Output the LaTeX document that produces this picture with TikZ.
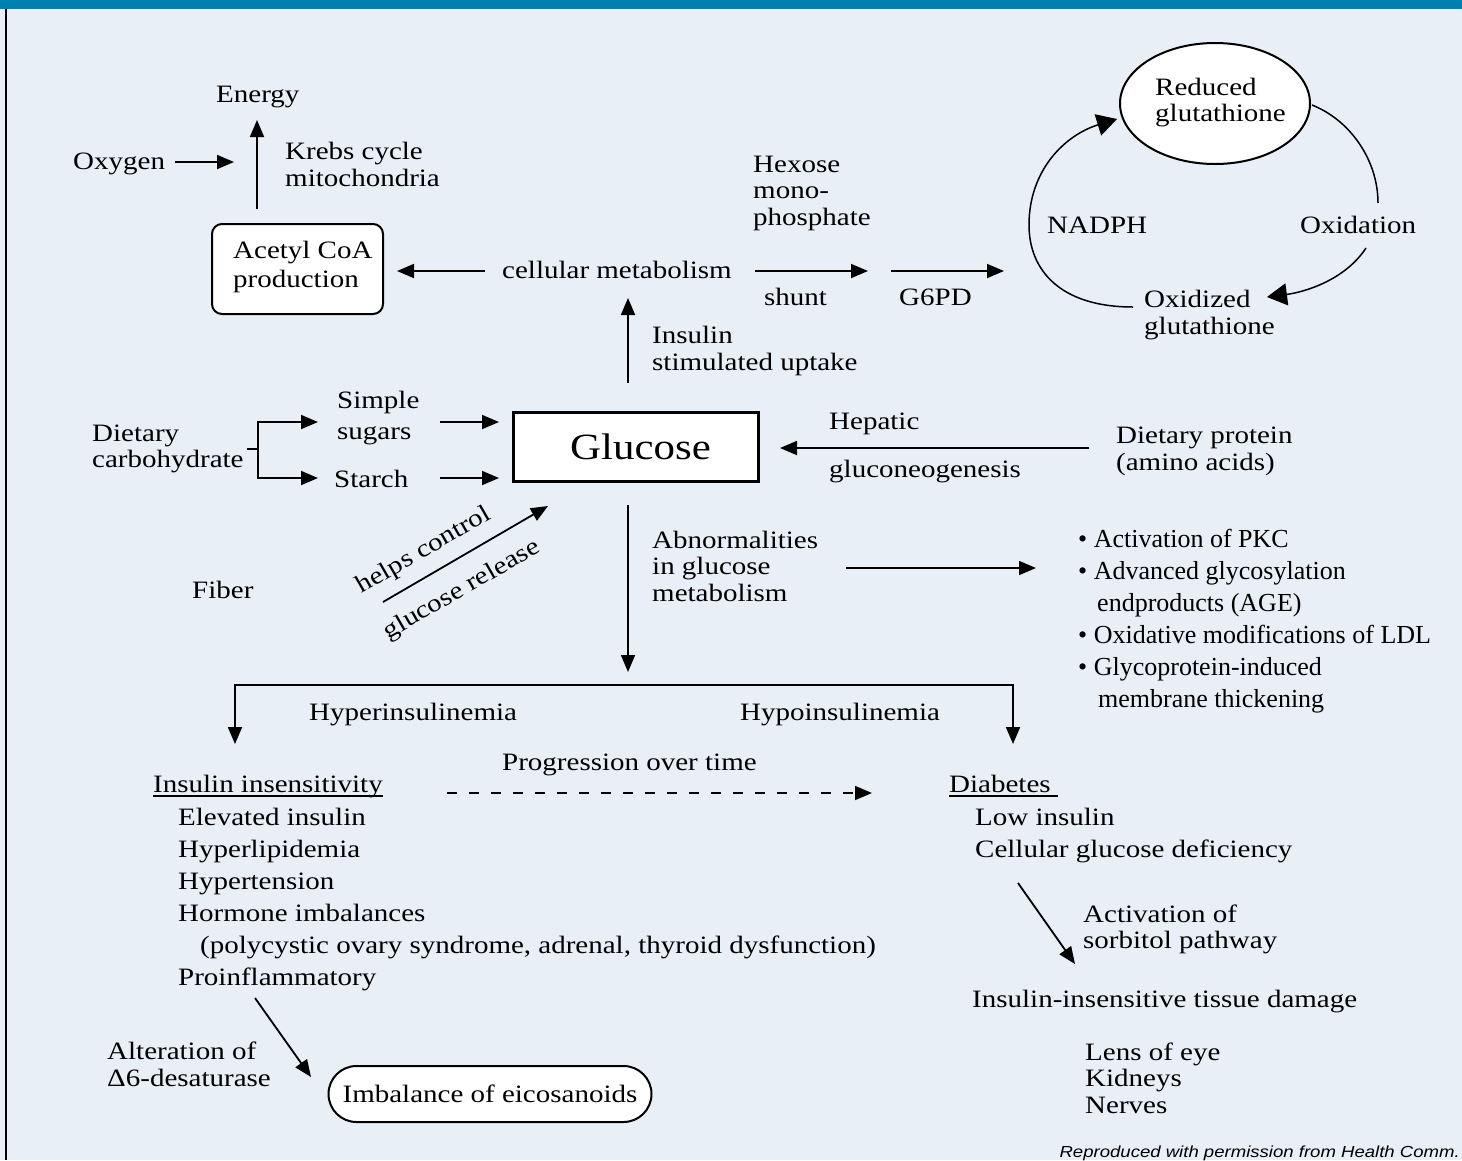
\documentclass[tikz,border=0pt]{standalone}
\usepackage{fontspec}
\setmainfont{Liberation Serif}[FakeStretch=1.16]
\newfontfamily\bulfont{Liberation Serif}
\newfontfamily\credfont{Liberation Sans}[FakeStretch=1.16]
\usetikzlibrary{arrows.meta,shapes.geometric}
\definecolor{bgc}{HTML}{E8EFF6}
\definecolor{bannerc}{HTML}{0080B0}
\begin{document}
\begin{tikzpicture}[x=1pt,y=-1pt,
  tx/.style={anchor=base west,inner sep=0pt,font=\fontsize{25}{27}\selectfont},
  bx/.style={anchor=base west,inner sep=0pt,font=\bulfont\fontsize{26}{28}\selectfont},
  arr/.style={line width=1.8pt,-{Triangle[length=17pt,width=14pt]}},
  darr/.style={line width=1.8pt,{Triangle[length=17pt,width=14pt]}-{Triangle[length=17pt,width=14pt]}},
  carr/.style={line width=1.5pt,-{Triangle[length=20pt,width=22pt]}},
  thinline/.style={line width=1.5pt},
  shapebox/.style={draw,fill=white,inner sep=0pt}
]
\useasboundingbox (0,0) rectangle (1462,1160);
\fill[bgc] (0,0) rectangle (1462,1160);
\fill[bannerc] (0,0) rectangle (1462,9);
\draw[line width=2pt] (6,9) -- (6,1160);

% ---------- top left: Acetyl CoA / Krebs ----------
\node[tx] (energy) at (216,102) {Energy};
\node[tx] (oxygen) at (73,169) {Oxygen};
\node[tx] (krebs1) at (285,159) {Krebs cycle};
\node[tx] (krebs2) at (285,186) {mitochondria};
\node[shapebox,rounded corners=10pt,line width=2pt,minimum width=171pt,minimum height=90pt] (acetyl) at (297.5,269) {};
\node[tx] (acetyl1) at (233,258) {Acetyl CoA};
\node[tx] (acetyl2) at (233,287) {production};
\coordinate (oxA) at (175,162); \coordinate (oxB) at (234,162);
\draw[arr] (oxA) -- (oxB);
\coordinate (krA) at (257,209); \coordinate (krB) at (257,120);
\draw[arr] (krA) -- (krB);

% ---------- cellular metabolism row ----------
\node[tx] (cellmet) at (502,278) {cellular metabolism};
\coordinate (cmL) at (485,271); \coordinate (cmLt) at (397,271);
\draw[arr] (cmL) -- (cmLt);
\node[tx] (hex1) at (753,172) {Hexose};
\node[tx] (hex2) at (753,198) {mono-};
\node[tx] (hex3) at (753,225) {phosphate};
\node[tx] (shunt) at (764,305) {shunt};
\node[tx] (g6pd) at (899,305) {G6PD};
\coordinate (shA) at (755,271); \coordinate (shB) at (868,271);
\draw[arr] (shA) -- (shB);
\coordinate (gA) at (891,271); \coordinate (gB) at (1004,271);
\draw[arr] (gA) -- (gB);

% ---------- glutathione cycle ----------
\node[shapebox,ellipse,line width=2pt,minimum width=190pt,minimum height=121pt] (reduced) at (1215,103.5) {};
\node[tx] (red1) at (1155,95) {Reduced};
\node[tx] (red2) at (1155,121) {glutathione};
\node[tx] (nadph) at (1047,233) {NADPH};
\node[tx] (oxid) at (1300,233) {Oxidation};
\node[tx] (oxd1) at (1144,307) {Oxidized};
\node[tx] (oxd2) at (1144,334) {glutathione};
\coordinate (rA) at (1312,105); \coordinate (rB) at (1378,203);
\draw[thinline] (rA) .. controls (1350,120) and (1378,160) .. (rB);
\coordinate (oA) at (1366,248); \coordinate (oB) at (1267,297);
\draw[carr] (oA) .. controls (1345,280) and (1305,292) .. (oB);
\coordinate (nA) at (1133,307); \coordinate (nM) at (1029,225); \coordinate (nB) at (1117,119);
\draw[carr] (nA) .. controls (1060,307) and (1029,270) .. (nM) .. controls (1029,170) and (1065,135) .. (nB);

% ---------- insulin stimulated uptake ----------
\node[tx] (ins1) at (652,343) {Insulin};
\node[tx] (ins2) at (652,370) {stimulated uptake};
\coordinate (upA) at (628,383); \coordinate (upB) at (628,298);
\draw[arr] (upA) -- (upB);

% ---------- Glucose ----------
\node[shapebox,line width=3pt,minimum width=245pt,minimum height=69pt,font=\fontsize{37}{40}\selectfont] (glucose) at (636,447) {\hspace*{9pt}Glucose};
\node[tx] (diet1) at (92,441) {Dietary};
\node[tx] (diet2) at (92,467) {carbohydrate};
\node[tx] (simp1) at (337,408) {Simple};
\node[tx] (simp2) at (337,439) {sugars};
\node[tx] (starch) at (334,487) {Starch};
\coordinate (stubA) at (247,449); \coordinate (stubB) at (258,449);
\draw[line width=1.8pt] (stubA) -- (stubB);
\coordinate (brT) at (258,422); \coordinate (brB) at (258,478);
\coordinate (brTt) at (318,422); \coordinate (brBt) at (318,478);
\draw[darr] (brTt) -- (brT) -- (brB) -- (brBt);
\coordinate (ssA) at (440,422); \coordinate (ssB) at (499,422);
\draw[arr] (ssA) -- (ssB);
\coordinate (stA) at (440,478); \coordinate (stB) at (499,478);
\draw[arr] (stA) -- (stB);

\node[tx] (fiber) at (192,598) {Fiber};
\coordinate (fA) at (383,602); \coordinate (fB) at (548,506);
\draw[arr] (fA) -- (fB);
\node[inner sep=0pt,rotate=30,font=\fontsize{25}{27}\selectfont] (helps) at (424,551) {helps control};
\node[inner sep=0pt,rotate=30,font=\fontsize{25}{27}\selectfont] (glrel) at (462,590) {glucose release};

\node[tx] (hep1) at (829,429) {Hepatic};
\node[tx] (hep2) at (829,477) {gluconeogenesis};
\node[tx] (prot1) at (1116,443) {Dietary protein};
\node[tx] (prot2) at (1116,470) {(amino acids)};
\coordinate (hpA) at (1089,448); \coordinate (hpB) at (780,448);
\draw[arr] (hpA) -- (hpB);

% ---------- abnormalities ----------
\node[tx] (abn1) at (652,548) {Abnormalities};
\node[tx] (abn2) at (652,574) {in glucose};
\node[tx] (abn3) at (652,601) {metabolism};
\coordinate (abA) at (846,568); \coordinate (abB) at (1036,568);
\draw[arr] (abA) -- (abB);
\node[bx] (b1) at (1078,547) {• Activation of PKC};
\node[bx] (b2) at (1078,579) {• Advanced glycosylation};
\node[bx] (b2b) at (1097,611) {endproducts (AGE)};
\node[bx] (b3) at (1078,643) {• Oxidative modifications of LDL};
\node[bx] (b4) at (1078,675) {• Glycoprotein-induced};
\node[bx] (b4b) at (1098,707) {membrane thickening};

\coordinate (dnA) at (628,505); \coordinate (dnB) at (628,672);
\draw[arr] (dnA) -- (dnB);

% ---------- bottom bracket ----------
\coordinate (hbL) at (235,685); \coordinate (hbR) at (1013,685);
\coordinate (hbLt) at (235,744); \coordinate (hbRt) at (1013,744);
\draw[darr] (hbLt) -- (hbL) -- (hbR) -- (hbRt);
\node[tx] (hyper) at (309,720) {Hyperinsulinemia};
\node[tx] (hypo) at (740,720) {Hypoinsulinemia};
\node[tx] (prog) at (502,770) {Progression over time};
\coordinate (prA) at (447,793); \coordinate (prB) at (872,793);
\draw[line width=1.6pt,dash pattern=on 10pt off 12pt,-{Triangle[length=17pt,width=14pt]}] (prA) -- (prB);

% ---------- left list ----------
\node[tx] (insens) at (153,792) {Insulin insensitivity};
\draw[line width=1.3pt] ([yshift=-4pt]insens.base west) -- ([yshift=-4pt]insens.base east);
\node[tx] (l1) at (178,825) {Elevated insulin};
\node[tx] (l2) at (178,857) {Hyperlipidemia};
\node[tx] (l3) at (178,889) {Hypertension};
\node[tx] (l4) at (178,921) {Hormone imbalances};
\node[tx] (l5) at (200,953) {(polycystic ovary syndrome, adrenal, thyroid dysfunction)};
\node[tx] (l6) at (178,985) {Proinflammatory};
\node[tx] (alt1) at (107,1059) {Alteration of};
\node[tx] (alt2) at (107,1086) {Δ6-desaturase};
\coordinate (alA) at (255,998); \coordinate (alB) at (311,1077);
\draw[arr] (alA) -- (alB);
\node[shapebox,line width=2pt,rounded corners=28pt,minimum width=323pt,minimum height=56pt,font=\fontsize{25}{27}\selectfont] (imb) at (490,1094) {Imbalance of eicosanoids};

% ---------- right list ----------
\node[tx] (diab) at (949,792) {Diabetes};
\draw[line width=1.3pt] ([yshift=-4pt]diab.base west) -- ([xshift=7pt,yshift=-4pt]diab.base east);
\node[tx] (r1) at (975,825) {Low insulin};
\node[tx] (r2) at (975,857) {Cellular glucose deficiency};
\coordinate (soA) at (1018,883); \coordinate (soB) at (1075,964);
\draw[arr] (soA) -- (soB);
\node[tx] (sor1) at (1083,922) {Activation of};
\node[tx] (sor2) at (1083,948) {sorbitol pathway};
\node[tx] (tissue) at (972,1007) {Insulin-insensitive tissue damage};
\node[tx] (t1) at (1085,1060) {Lens of eye};
\node[tx] (t2) at (1085,1086) {Kidneys};
\node[tx] (t3) at (1085,1113) {Nerves};

\node[anchor=base east,inner sep=0pt,font=\credfont\fontsize{16}{18}\itshape\selectfont] (credit) at (1460,1157) {Reproduced with permission from Health Comm.};
\end{tikzpicture}
\end{document}
